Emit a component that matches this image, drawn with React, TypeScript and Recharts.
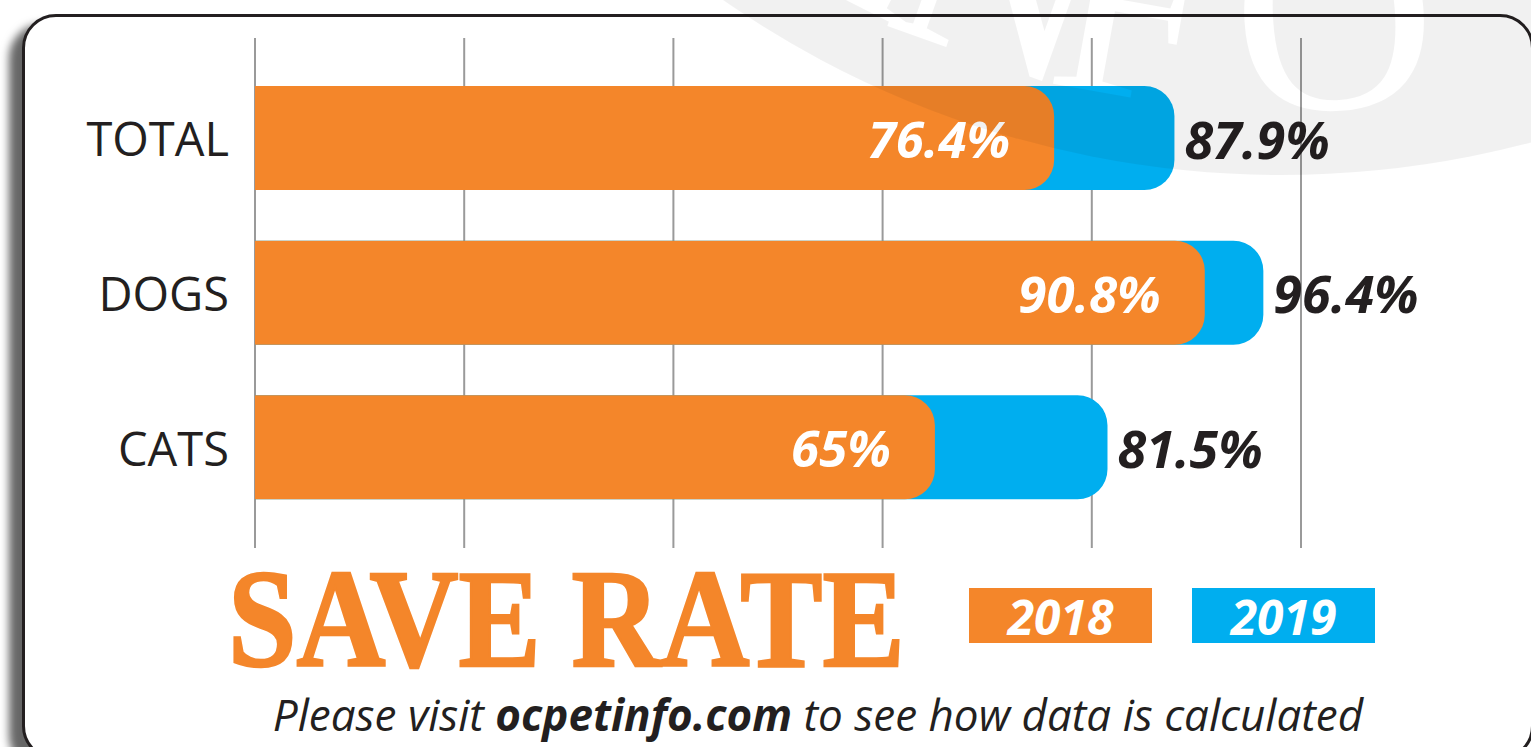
import React from 'react';
import { BarChart, Bar, XAxis, YAxis, CartesianGrid, LabelList } from 'recharts';

const categories = ['TOTAL', 'DOGS', 'CATS'];
const rate2018 = [76.4, 90.8, 65];
const rate2019 = [87.9, 96.4, 81.5];
const label2018 = ['76.4%', '90.8%', '65%'];
const label2019 = ['87.9%', '96.4%', '81.5%'];
const xTicks = [0, 20, 40, 60, 80, 100];
const seriesNames = ['2018', '2019'];
const seriesColors = ['#F4862A', '#00AEEF'];
const titleText = 'SAVE RATE';
const footerParts = ['Please visit ', 'ocpetinfo.com', ' to see how data is calculated'];
const watermarkLetters = ['I', 'N', 'F', 'O'];
const watermarkLetterX = [870, 975, 1120, 1340];

const data = categories.map((c, i) => ({
  category: c,
  y2018: rate2018[i],
  y2019: rate2019[i],
  l2018: label2018[i],
  l2019: label2019[i],
}));

const W = 1531;
const H = 747;
const LABEL_FONT = '"Open Sans", "Noto Sans", sans-serif';
const WM_CX = 1281;
const WM_CY = -802;
const WM_R = 977;
const WM_BASE_R = 912;

const CategoryTick = (props: any) => {
  const { x, y, payload } = props;
  return (
    <text
      x={x - 18}
      y={y}
      textAnchor="end"
      dominantBaseline="central"
      fontFamily={LABEL_FONT}
      fontSize={47}
      fill="#231F20"
    >
      {payload.value}
    </text>
  );
};

const InnerLabel = (props: any) => {
  const { x, y, width, height, value } = props;
  return (
    <text
      x={x + width - 44}
      y={y + height / 2}
      textAnchor="end"
      dominantBaseline="central"
      fontFamily={LABEL_FONT}
      fontSize={51}
      fontWeight={700}
      fontStyle="italic"
      fill="#FFFFFF"
    >
      {value}
    </text>
  );
};

const OuterLabel = (props: any) => {
  const { x, y, width, height, value } = props;
  return (
    <text
      x={x + width + 10}
      y={y + height / 2}
      textAnchor="start"
      dominantBaseline="central"
      fontFamily={LABEL_FONT}
      fontSize={52}
      fontWeight={700}
      fontStyle="italic"
      fill="#231F20"
    >
      {value}
    </text>
  );
};

export default function App() {
  return (
    <div
      style={{
        position: 'absolute',
        left: 0,
        top: 0,
        width: W,
        height: H,
        overflow: 'hidden',
        background: '#FFFFFF',
      }}
    >
      <div
        style={{
          position: 'absolute',
          left: 22,
          top: 14,
          width: 1512,
          height: 746,
          boxSizing: 'border-box',
          border: '3px solid #231F20',
          borderRadius: 34,
          background: '#FFFFFF',
          boxShadow: '-13px 10px 9px rgba(0,0,0,0.6)',
        }}
      />
      <div style={{ position: 'absolute', left: 0, top: 0 }}>
        <BarChart
          width={W}
          height={H}
          data={data}
          layout="vertical"
          margin={{ top: 38, right: 230, bottom: 199, left: 55 }}
          barGap={-104}
          barSize={104}
        >
          <CartesianGrid horizontal={false} vertical={true} stroke="#9A9A9A" strokeWidth={2} />
          <XAxis type="number" domain={[0, 100]} ticks={xTicks} hide />
          <YAxis
            type="category"
            dataKey="category"
            width={200}
            axisLine={false}
            tickLine={false}
            tick={<CategoryTick />}
            padding={{ top: 23, bottom: 23 }}
          />
          <Bar dataKey="y2019" name={seriesNames[1]} fill={seriesColors[1]} radius={[0, 30, 30, 0]} isAnimationActive={false}>
            <LabelList dataKey="l2019" content={<OuterLabel />} />
          </Bar>
          <Bar dataKey="y2018" name={seriesNames[0]} fill={seriesColors[0]} radius={[0, 30, 30, 0]} isAnimationActive={false}>
            <LabelList dataKey="l2018" content={<InnerLabel />} />
          </Bar>
        </BarChart>
      </div>
      <svg
        width={W}
        height={H}
        style={{ position: 'absolute', left: 0, top: 0, pointerEvents: 'none' }}
      >
        <defs>
          <mask id="wmMask" maskUnits="userSpaceOnUse" x={0} y={0} width={W} height={H}>
            <rect x={0} y={0} width={W} height={H} fill="#FFFFFF" />
            {watermarkLetters.map((ch, i) => {
              const s = (watermarkLetterX[i] - WM_CX) / WM_BASE_R;
              const th = Math.asin(s);
              const px = WM_CX + WM_BASE_R * Math.sin(th);
              const py = WM_CY + WM_BASE_R * Math.cos(th);
              const deg = (-th * 180) / Math.PI;
              return (
                <text
                  key={ch + i}
                  x={0}
                  y={0}
                  transform={`translate(${px},${py}) rotate(${deg})`}
                  textAnchor="middle"
                  fontFamily='"Liberation Serif", "DejaVu Serif", serif'
                  fontSize={280}
                  fill="#000000"
                >
                  {ch}
                </text>
              );
            })}
          </mask>
        </defs>
        <circle cx={WM_CX} cy={WM_CY} r={WM_R} fill="#000000" opacity={0.05} mask="url(#wmMask)" />
        <text
          transform="translate(228,666) scale(0.88,1)"
          fontFamily='"Liberation Serif", "DejaVu Serif", serif'
          fontWeight={700}
          fontSize={140}
          fill="#F4862A"
          stroke="#F4862A"
          strokeWidth={2.5}
        >
          {titleText}
        </text>
        {seriesNames.map((n, i) => (
          <g key={n}>
            <rect x={969 + i * 223} y={588} width={183} height={55} fill={seriesColors[i]} />
            <text
              x={969 + i * 223 + 91.5}
              y={616}
              textAnchor="middle"
              dominantBaseline="central"
              fontFamily={LABEL_FONT}
              fontSize={48}
              fontWeight={700}
              fontStyle="italic"
              fill="#FFFFFF"
            >
              {n}
            </text>
          </g>
        ))}
        <text
          x={818}
          y={731}
          textAnchor="middle"
          fontFamily={LABEL_FONT}
          fontSize={44}
          fontStyle="italic"
          fill="#231F20"
        >
          {footerParts[0]}
          <tspan fontWeight={700}>{footerParts[1]}</tspan>
          {footerParts[2]}
        </text>
      </svg>
    </div>
  );
}
